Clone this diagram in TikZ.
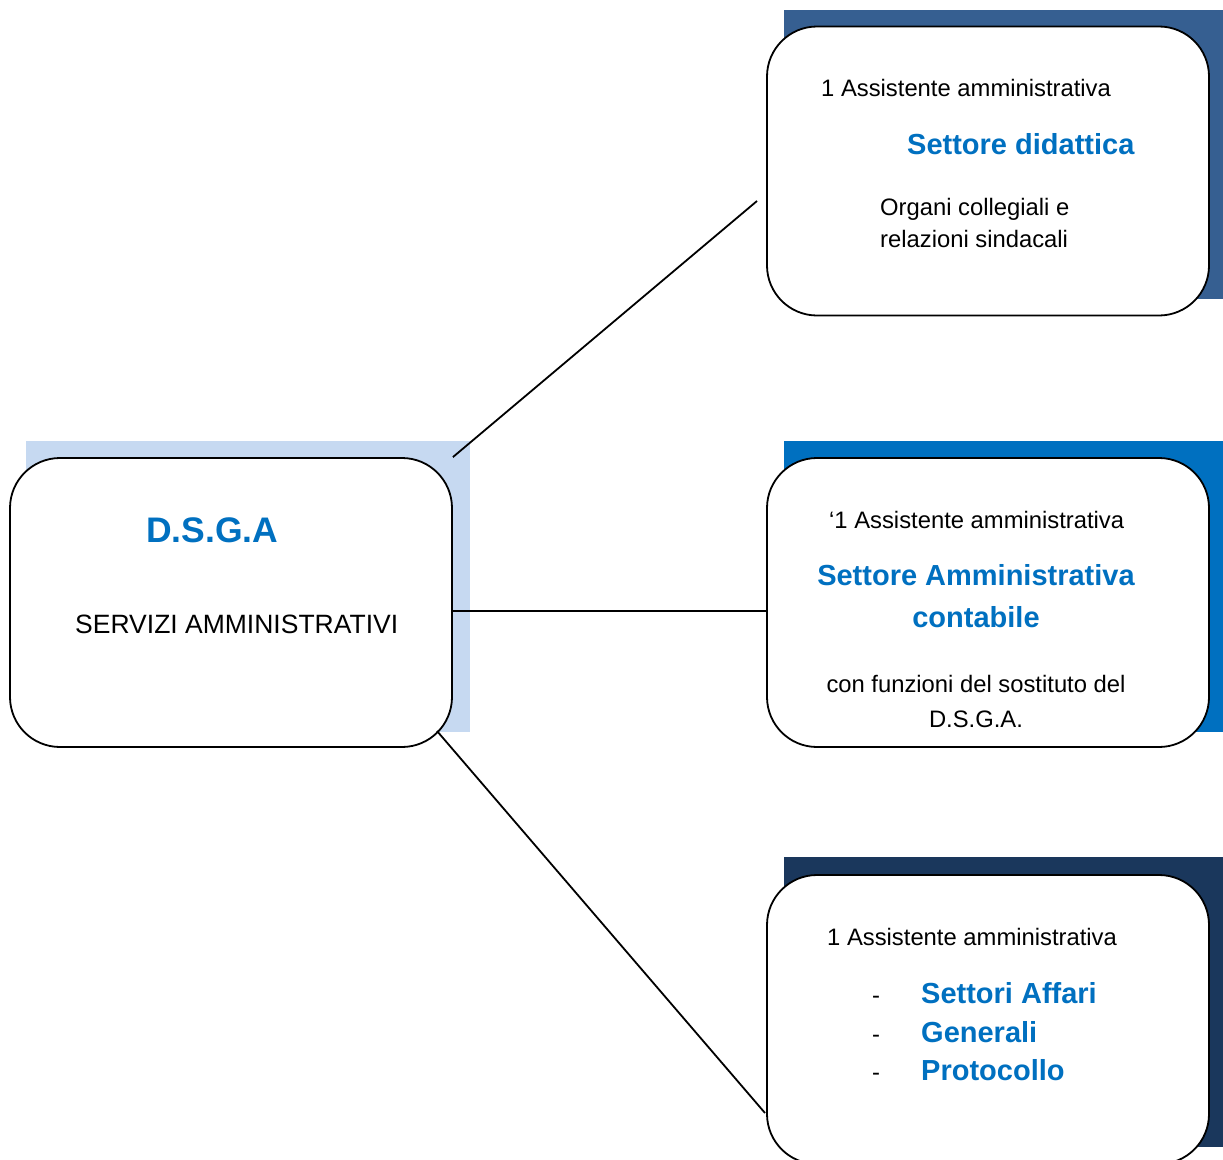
\documentclass[tikz,border=0pt]{standalone}
\usepackage{fontspec}
\setmainfont{Liberation Sans}
\definecolor{leftsh}{HTML}{C6D9F1}
\definecolor{topsh}{HTML}{365F91}
\definecolor{midsh}{HTML}{0070C0}
\definecolor{botsh}{HTML}{1A375C}
\definecolor{tblue}{HTML}{0070C0}
\tikzset{
  box/.style={draw=black, line width=1.8pt, fill=white, rounded corners=50pt,
    minimum width=442pt, minimum height=289pt, inner sep=0pt},
  smalltxt/.style={font=\fontsize{23.8pt}{28pt}\selectfont, anchor=base west, inner sep=0pt},
  bigtxt/.style={font=\fontsize{26.5pt}{30pt}\selectfont, anchor=base west, inner sep=0pt},
  bluetxt/.style={font=\fontsize{29pt}{34pt}\selectfont\bfseries, text=tblue, anchor=base west, inner sep=0pt},
  conn/.style={draw=black, line width=1.8pt}
}
\begin{document}
\begin{tikzpicture}[x=1pt, y=-1pt]
\useasboundingbox (0,0) rectangle (1223,1159);
\clip (0,0) rectangle (1223,1159);
\fill[white] (0,0) rectangle (1223,1159);
% shadows
\fill[leftsh] (26,441) rectangle (470,732);
\fill[topsh] (784,10) rectangle (1230,299);
\fill[midsh] (784,441) rectangle (1230,732);
\fill[botsh] (784,857) rectangle (1230,1147);
% boxes
\node[box] (dsga) at (231,602.5) {};
\node[box] (top) at (988,171) {};
\node[box] (mid) at (988,602.5) {};
\node[box] (bot) at (988,1019.5) {};
% connectors
\coordinate (c1) at (757,201);
\coordinate (c2) at (452,611);
\coordinate (c3) at (437,731);
\coordinate (c4) at (765,1113);
\draw[conn] (dsga.north east) -- (c1);
\draw[conn] (c2) -- (c2 -| mid.west);
\draw[conn] (c3) -- (c4);
% left texts
\node[font=\fontsize{35.5pt}{40pt}\selectfont\bfseries, text=tblue, anchor=base west, inner sep=0pt] (t1) at (146,542) {D.S.G.A};
\node[bigtxt] (t2) at (75,633) {SERVIZI AMMINISTRATIVI};
% top texts
\node[smalltxt] (t3) at (821,96) {1 Assistente amministrativa};
\node[bluetxt] (t4) at (907,154) {Settore didattica};
\node[smalltxt] (t5) at (880,215) {Organi collegiali e};
\node[smalltxt] (t6) at (880,247) {relazioni sindacali};
% mid texts
\node[smalltxt] (t7) at (829,528) {‘1 Assistente amministrativa};
\node[bluetxt, anchor=base] (t8) at (976,585) {Settore Amministrativa};
\node[bluetxt, anchor=base] (t9) at (976,627) {contabile};
\node[smalltxt, anchor=base] (t10) at (976,692) {con funzioni del sostituto del};
\node[smalltxt, anchor=base] (t11) at (976,727) {D.S.G.A.};
% bottom texts
\node[smalltxt] (t12) at (827,945) {1 Assistente amministrativa};
\node[smalltxt] (d1) at (872,1003) {-};
\node[smalltxt] (d2) at (872,1042) {-};
\node[smalltxt] (d3) at (872,1080) {-};
\node[bluetxt] (t13) at (921,1003) {Settori Affari};
\node[bluetxt] (t14) at (921,1042) {Generali};
\node[bluetxt] (t15) at (921,1080) {Protocollo};
\end{tikzpicture}
\end{document}
